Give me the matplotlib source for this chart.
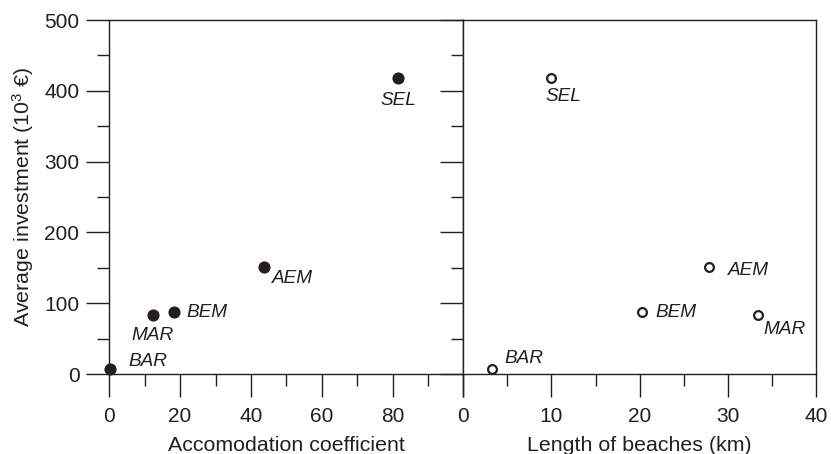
import matplotlib
matplotlib.use("Agg")
import matplotlib.pyplot as plt
from matplotlib.ticker import MultipleLocator

plt.rcParams['font.family'] = ['Liberation Sans', 'DejaVu Sans']
plt.rcParams['mathtext.fontset'] = 'custom'
plt.rcParams['mathtext.rm'] = 'Liberation Sans'
plt.rcParams['mathtext.it'] = 'Liberation Sans:italic'

INK = '#231f20'

# Municipalities and their values
sites = ['SEL', 'AEM', 'BEM', 'MAR', 'BAR']
investment = [418, 151, 88, 83, 7]             # average investment (10^3 EUR)
accommodation = [81.6, 43.6, 18.3, 12.4, 0.2]  # accommodation coefficient
beach_length = [10.0, 27.9, 20.3, 33.4, 3.2]   # length of beaches (km)

# label offsets in pixels (dx, dy, ha)
left_offsets = {'SEL': (0, -22, 'center'), 'AEM': (8, -11, 'left'),
                'BEM': (12, -1, 'left'), 'MAR': (-22, -20, 'left'),
                'BAR': (18, 8, 'left')}
right_offsets = {'SEL': (-6, -18, 'left'), 'AEM': (19, -3, 'left'),
                 'BEM': (13, -1, 'left'), 'MAR': (6, -14, 'left'),
                 'BAR': (13, 11, 'left')}

W, H = 831, 454
fig = plt.figure(figsize=(W / 100, H / 100), dpi=100)
x0, xm, x1 = 109.3, 463.3, 816.0
y0, y1 = 374.0, 20.0
ax1 = fig.add_axes([x0 / W, (H - y0) / H, (xm - x0) / W, (y0 - y1) / H])
ax2 = fig.add_axes([xm / W, (H - y0) / H, (x1 - xm) / W, (y0 - y1) / H], sharey=ax1)

MAJ, MIN = 16.5, 8.3
for ax in (ax1, ax2):
    for s in ax.spines.values():
        s.set_color(INK)
        s.set_linewidth(1.0)
    ax.tick_params(which='both', color=INK, labelcolor=INK, labelsize=15, width=1.0,
                   direction='out', top=False, right=False)
    ax.tick_params(which='major', length=MAJ)
    ax.tick_params(which='minor', length=MIN)
    ax.tick_params(axis='x', which='major', pad=7.5)

ax1.set_xlim(0, 100)
ax1.set_ylim(0, 500)
ax1.set_xticks([0, 20, 40, 60, 80, 100])
ax1.set_xticklabels(['0', '20', '40', '60', '80', ''])
ax1.xaxis.set_minor_locator(MultipleLocator(10))
ax1.yaxis.set_major_locator(MultipleLocator(100))
ax1.yaxis.set_minor_locator(MultipleLocator(50))
ax1.tick_params(axis='y', which='major', pad=5)

# the right panel's left ticks point outward, into the left panel
ax2.set_xlim(0, 40)
ax2.xaxis.set_major_locator(MultipleLocator(10))
ax2.xaxis.set_minor_locator(MultipleLocator(5))
ax2.tick_params(axis='y', which='both', left=True, labelleft=False)

ax1.scatter(accommodation, investment, s=60, color=INK, zorder=3, clip_on=False)
ax2.scatter(beach_length, investment, s=40, facecolor='white', edgecolor=INK,
            linewidth=1.6, zorder=3, clip_on=False)

LBL = 13.7
for name, xv, yv in zip(sites, accommodation, investment):
    dx, dy, ha = left_offsets[name]
    ax1.annotate(name, (xv, yv), xytext=(dx, dy), textcoords='offset pixels',
                 ha=ha, va='center', style='italic', fontsize=LBL, color=INK)
for name, xv, yv in zip(sites, beach_length, investment):
    dx, dy, ha = right_offsets[name]
    ax2.annotate(name, (xv, yv), xytext=(dx, dy), textcoords='offset pixels',
                 ha=ha, va='center', style='italic', fontsize=LBL, color=INK)

ax1.set_xlabel('Accomodation coefficient', fontsize=15.4, color=INK, labelpad=7)
ax2.set_xlabel('Length of beaches (km)', fontsize=15.4, color=INK, labelpad=7)
ax1.set_ylabel('Average investment (10$^3$ €)', fontsize=15.4, color=INK, labelpad=6)

fig.savefig('out.png', dpi=100)
